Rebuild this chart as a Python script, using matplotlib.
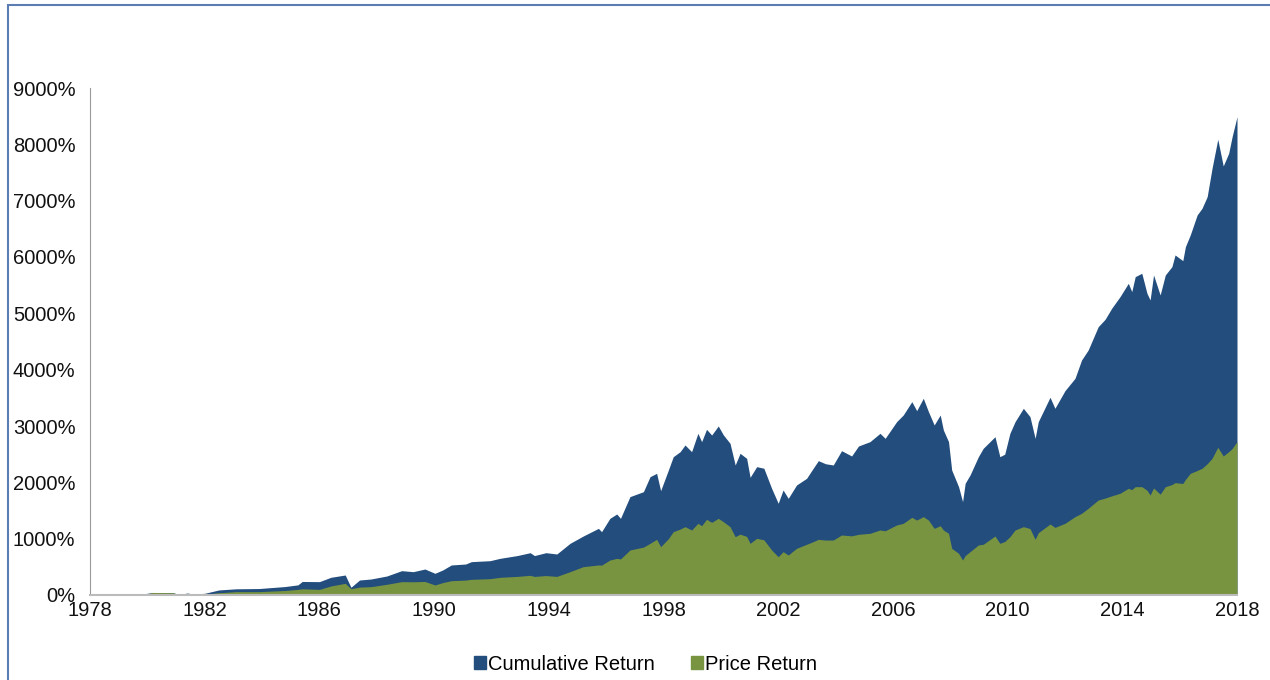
import numpy as np
import matplotlib
matplotlib.use("Agg")
import matplotlib.pyplot as plt
from matplotlib.patches import Rectangle, Patch
from matplotlib.ticker import FuncFormatter

# values (year, % return)
years = [1978.0, 1979.0, 1979.8, 1980.2, 1980.9, 1981.1, 1981.4, 1981.6, 1982.0, 1982.5,
         1983.1, 1983.9, 1984.8, 1985.25, 1985.4, 1986.0, 1986.4, 1986.9, 1987.1, 1987.4,
         1987.8, 1988.35, 1988.87, 1989.27, 1989.68, 1990.03, 1990.3, 1990.6, 1991.1, 1991.3,
         1991.95, 1992.3, 1992.9, 1993.35, 1993.5, 1993.9, 1994.28, 1994.74, 1995.2, 1995.73,
         1995.84, 1996.13, 1996.37, 1996.5, 1996.83, 1997.3, 1997.53, 1997.76, 1997.9, 1998.17,
         1998.34, 1998.58, 1998.75, 1998.98, 1999.2, 1999.33, 1999.5, 1999.68, 1999.91, 2000.09,
         2000.32, 2000.5, 2000.67, 2000.9, 2001.02, 2001.25, 2001.5, 2001.77, 2002.0, 2002.17,
         2002.35, 2002.64, 2002.99, 2003.22, 2003.4, 2003.65, 2003.92, 2004.21, 2004.56, 2004.8,
         2005.2, 2005.55, 2005.73, 2006.13, 2006.36, 2006.66, 2006.83, 2007.06, 2007.24, 2007.44,
         2007.65, 2007.76, 2007.94, 2008.05, 2008.29, 2008.43, 2008.52, 2008.69, 2008.98, 2009.15,
         2009.56, 2009.73, 2009.9, 2010.08, 2010.26, 2010.55, 2010.78, 2010.96, 2011.07, 2011.48,
         2011.65, 2012.0, 2012.35, 2012.58, 2012.81, 2013.16, 2013.4, 2013.63, 2013.92, 2014.21,
         2014.33, 2014.45, 2014.68, 2014.86, 2014.97, 2015.09, 2015.32, 2015.5, 2015.73, 2015.84,
         2016.11, 2016.2, 2016.37, 2016.61, 2016.78, 2016.96, 2017.13, 2017.33, 2017.52, 2017.71,
         2017.83, 2018.0]

cumulative = [0, 0, 15, 45, 40, 10, 35, 15, 30, 90,
              110, 115, 150, 180, 240, 237, 314, 355, 137, 266,
              284, 337, 432, 414, 461, 385, 444, 533, 550, 592,
              609, 651, 700, 751, 700, 751, 728, 917, 1047, 1183,
              1124, 1361, 1438, 1361, 1746, 1834, 2100, 2160, 1852, 2219,
              2455, 2544, 2663, 2544, 2870, 2722, 2941, 2840, 3000, 2840,
              2693, 2308, 2515, 2426, 2089, 2278, 2250, 1894, 1628, 1864,
              1716, 1953, 2071, 2249, 2385, 2330, 2308, 2562, 2468, 2645,
              2722, 2870, 2781, 3077, 3195, 3432, 3272, 3492, 3254, 3018,
              3195, 2929, 2722, 2219, 1923, 1657, 1983, 2130, 2455, 2604,
              2810, 2455, 2500, 2870, 3077, 3314, 3166, 2781, 3077, 3510,
              3314, 3627, 3846, 4172, 4349, 4763, 4894, 5090, 5296, 5533,
              5385, 5651, 5711, 5356, 5237, 5681, 5326, 5681, 5829, 6036,
              5935, 6183, 6391, 6746, 6865, 7071, 7575, 8090, 7616, 7841,
              8136, 8490]

price = [0, 0, 5, 45, 40, 5, 10, 5, 15, 40,
         60, 60, 80, 100, 110, 100, 160, 207, 112, 140,
         148, 190, 237, 235, 240, 178, 220, 254, 265, 278,
         290, 314, 330, 349, 330, 345, 330, 414, 503, 533,
         530, 621, 650, 640, 799, 850, 917, 988, 858, 1000,
         1124, 1170, 1213, 1154, 1272, 1230, 1343, 1290, 1361, 1300,
         1213, 1035, 1080, 1040, 917, 1006, 980, 799, 680, 769,
         710, 829, 900, 947, 988, 975, 976, 1065, 1050, 1077,
         1095, 1154, 1140, 1243, 1272, 1379, 1330, 1391, 1330, 1183,
         1230, 1154, 1095, 829, 740, 621, 700, 769, 888, 900,
         1047, 917, 950, 1035, 1154, 1213, 1180, 988, 1106, 1260,
         1200, 1272, 1391, 1450, 1539, 1686, 1720, 1760, 1805, 1894,
         1870, 1923, 1923, 1860, 1775, 1900, 1790, 1923, 1960, 1994,
         1980, 2050, 2160, 2210, 2249, 2330, 2426, 2622, 2468, 2544,
         2600, 2722]

x_ticks = [1978, 1982, 1986, 1990, 1994, 1998, 2002, 2006, 2010, 2014, 2018]
y_ticks = [0, 1000, 2000, 3000, 4000, 5000, 6000, 7000, 8000, 9000]

blue = "#224D7D"
green = "#799440"

plt.rcParams['font.family'] = ['Liberation Sans', 'DejaVu Sans']

fig = plt.figure(figsize=(12.7, 6.8), dpi=100)
ax = fig.add_axes([90/1270, 1 - 595/680, (1237 - 90)/1270, (595 - 88)/680])

ax.fill_between(years, 0, cumulative, color=blue, linewidth=0)
ax.fill_between(years, 0, price, color=green, linewidth=0)

ax.set_xlim(1978, 2018)
ax.set_ylim(0, 9000)
ax.set_xticks(x_ticks)
ax.set_yticks(y_ticks)
ax.yaxis.set_major_formatter(FuncFormatter(lambda v, p: f"{int(v)}%"))
ax.tick_params(axis='both', length=0, labelsize=14.5, colors='#111111')
ax.tick_params(axis='y', pad=10.5)
ax.tick_params(axis='x', pad=4)

for s in ['top', 'right']:
    ax.spines[s].set_visible(False)
ax.spines['left'].set_color('#999999')
ax.spines['bottom'].set_color('#bbbbbb')
ax.spines['bottom'].set_linewidth(1.5)

handles = [Patch(color=blue, label='Cumulative Return'),
           Patch(color=green, label='Price Return')]
fig.legend(handles=handles, loc='center', bbox_to_anchor=(0.508, 1 - 664/680),
           ncol=2, frameon=False, fontsize=14.5, handlelength=0.6, handleheight=0.6,
           handletextpad=0.1, columnspacing=1.8)

# outer frame (only top and left edges fall inside the picture)
fig.patches.append(Rectangle((8/1270, -0.1), 1.2, 1.1 - 5/680, transform=fig.transFigure,
                             fill=False, edgecolor='#5B7DB4', linewidth=1.5))

fig.savefig("out.png", dpi=100)
